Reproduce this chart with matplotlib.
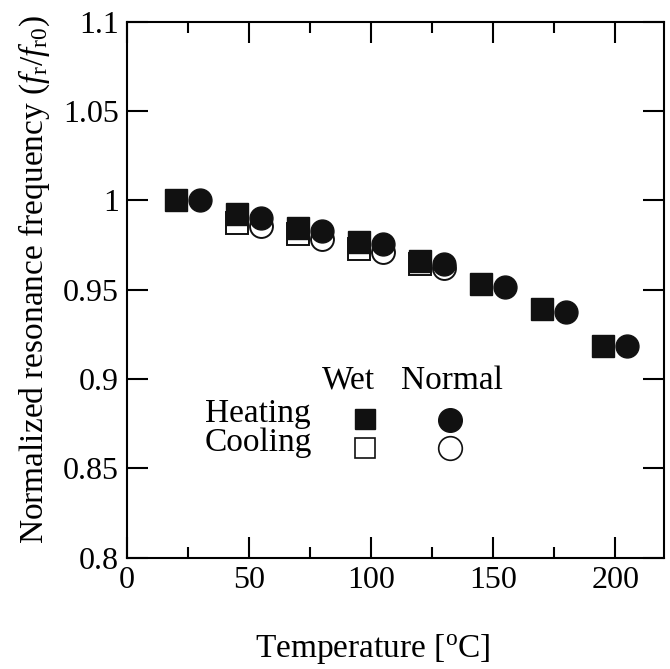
import matplotlib
matplotlib.use("Agg")
import matplotlib.pyplot as plt

plt.rcParams["font.family"] = "Liberation Serif"
plt.rcParams["mathtext.fontset"] = "custom"
plt.rcParams["mathtext.rm"] = "Liberation Serif"
plt.rcParams["mathtext.it"] = "Liberation Serif:italic"

# data
wet_heat_t = [20, 45, 70, 95, 120, 145, 170, 195]
wet_heat_f = [1.000, 0.9922, 0.9843, 0.9768, 0.9662, 0.9531, 0.9393, 0.9184]
wet_cool_t = [45, 70, 95, 120]
wet_cool_f = [0.9870, 0.9810, 0.9728, 0.9642]

norm_heat_t = [30, 55, 80, 105, 130, 155, 180, 205]
norm_heat_f = [1.000, 0.9903, 0.9830, 0.9757, 0.9644, 0.9514, 0.9374, 0.9183]
norm_cool_t = [55, 80, 105, 130]
norm_cool_f = [0.9854, 0.9782, 0.9709, 0.9619]

fig = plt.figure(figsize=(6.70, 6.69), dpi=100)
ax = fig.add_axes([127 / 670, 1 - 557.6 / 669, 537 / 670, 536 / 669])

ms = 16.5
k = "#111111"
ax.plot(wet_cool_t, wet_cool_f, "s", ms=ms, mfc="white", mec=k, mew=1.4, zorder=2)
ax.plot(norm_cool_t, norm_cool_f, "o", ms=ms, mfc="white", mec=k, mew=1.4, zorder=2)
ax.plot(wet_heat_t, wet_heat_f, "s", ms=ms, mfc=k, mec=k, zorder=3)
ax.plot(norm_heat_t, norm_heat_f, "o", ms=ms, mfc=k, mec=k, zorder=3)

ax.set_xlim(0, 220)
ax.set_ylim(0.8, 1.1)
ax.set_xticks([0, 50, 100, 150, 200])
ax.set_xticks(range(25, 220, 50), minor=True)
ax.set_yticks([0.8, 0.85, 0.9, 0.95, 1.0, 1.05, 1.1])
ax.set_yticklabels(["0.8", "0.85", "0.9", "0.95", "1", "1.05", "1.1"])
ax.tick_params(which="both", direction="in", top=True, right=True, width=1.5, labelsize=23)
ax.tick_params(which="major", length=15, pad=6)
ax.tick_params(which="minor", length=8)
for s in ax.spines.values():
    s.set_linewidth(1.5)

ax.set_xlabel(r"Temperature [$^\mathrm{o}$C]", fontsize=24)
ax.xaxis.set_label_coords(0.458, -0.138)
ax.set_ylabel(r"Normalized resonance frequency ($\mathit{f}_\mathrm{r}$/$\mathit{f}_\mathrm{r0}$)",
              fontsize=24)
ax.yaxis.set_label_coords(-0.14, 0.518)

# hand-made legend
tr = ax.transAxes
ax.text(0.4115, 0.3146, "Wet", transform=tr, fontsize=24, ha="center", va="baseline")
ax.text(0.6055, 0.3146, "Normal", transform=tr, fontsize=24, ha="center", va="baseline")
ax.text(0.1453, 0.253, "Heating", transform=tr, fontsize=24, ha="left", va="baseline")
ax.text(0.1453, 0.199, "Cooling", transform=tr, fontsize=24, ha="left", va="baseline")
ax.plot([0.4423], [0.2586], "s", ms=15, mfc=k, mec=k, transform=tr)
ax.plot([0.6015], [0.2567], "o", ms=17, mfc=k, mec=k, transform=tr)
ax.plot([0.4423], [0.2045], "s", ms=15, mfc="white", mec=k, mew=1.2, transform=tr)
ax.plot([0.6015], [0.2045], "o", ms=17, mfc="white", mec=k, mew=1.2, transform=tr)

fig.savefig("out.png", dpi=100)
